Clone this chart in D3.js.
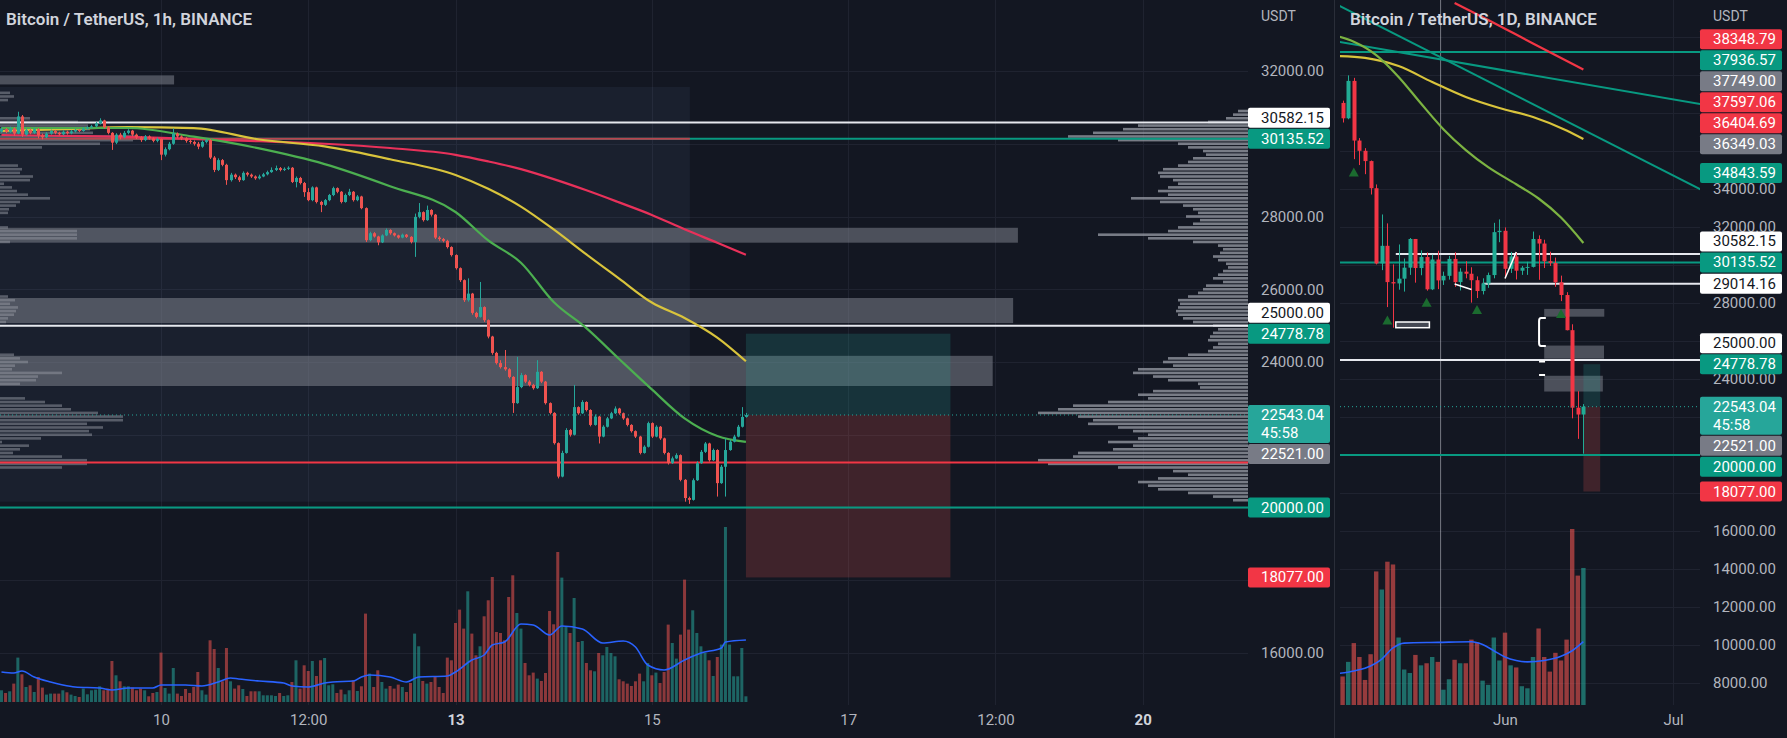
<!DOCTYPE html>
<html><head><meta charset="utf-8">
<script src="https://cdn.jsdelivr.net/npm/d3@7"></script>
<style>html,body{margin:0;padding:0;background:#131722;overflow:hidden}svg{display:block}</style>
</head><body>
<script>
// ======================= DATA : 1h panel =======================
const start1h = "2022-06-08T09:00:00Z";
const firstOpen1h = 30330;
const close1h = [30400,30330,30420,30280,30750,30250,30380,30300,30400,30230,
30180,30280,30350,30300,30260,30330,30290,30340,30380,30350,
30420,30450,30480,30560,30640,30450,30300,30030,30250,30180,
30300,30360,30250,30180,30100,30200,30150,30080,30130,29700,
29850,30000,30280,30200,30150,30080,30050,30000,29920,30050,
30100,29620,29280,29550,29420,29000,29150,29080,29000,29200,
29150,29100,29050,29100,29160,29220,29280,29330,29280,29310,
29340,28950,29060,28920,28670,28450,28800,28400,28320,28450,
28590,28780,28680,28400,28590,28680,28450,28550,28230,27350,
27540,27450,27290,27480,27630,27540,27480,27420,27500,27440,
27300,27990,28120,27900,28180,28050,27420,27380,27330,27160,
26940,26580,26250,25700,25880,25350,25240,25510,25150,24700,
24250,23970,23860,23800,23590,22870,23310,23640,23460,23370,
23280,23730,23460,22870,22600,21770,20850,21500,22130,22000,
22760,22590,22900,22680,22270,22500,21950,22220,22450,22590,
22720,22590,22450,22270,22100,21950,21500,21670,22320,21950,
22220,21900,21500,21220,21350,21440,20760,20260,20210,20750,
21220,21530,21760,21300,21580,20670,21120,21580,21810,21950,
22220,22490,22543.04];
const high1h = [30450,30430,30470,30450,30880,30790,30420,30420,30440,30430,
30280,30320,30390,30380,30330,30370,30360,30380,30410,30400,
30460,30480,30520,30600,30700,30660,30480,30320,30290,30300,
30350,30400,30380,30280,30210,30240,30230,30180,30170,30150,
29900,30050,30420,30310,30230,30180,30120,30090,30050,30090,
30140,30130,29660,29600,29580,29450,29200,29180,29120,29240,
29230,29180,29130,29150,29200,29260,29350,29400,29360,29350,
29380,29360,29100,29090,28950,28780,28830,28820,28430,28480,
28620,28820,28800,28700,28630,28760,28700,28590,28570,28250,
27580,27570,27470,27510,27670,27650,27560,27500,27530,27520,
27460,28080,28370,28140,28300,28200,28070,27460,27410,27360,
27180,26960,26600,26270,26300,25900,25380,26200,25530,25170,
24720,24280,24050,24330,23830,23610,24140,23700,23660,23500,
23400,24050,23750,23480,22890,22620,21790,21560,22180,22160,
23370,22780,22950,22920,22700,22560,22520,22260,22490,22630,
22780,22740,22610,22470,22290,22120,21970,21710,22360,22340,
22260,22240,21920,21520,21400,21490,21460,20780,20300,20800,
21270,21580,21800,21780,21620,21600,21170,21900,21860,22000,
22270,22760,22600];
const low1h = [30300,30290,30300,30220,30260,30190,30220,30260,30270,30150,
30120,30150,30250,30260,30220,30230,30250,30260,30310,30320,
30330,30390,30420,30450,30530,30420,30260,29830,29990,30120,
30150,30260,30200,30130,30050,30070,30110,30040,30040,29550,
29650,29820,29970,30150,30100,30030,30000,29950,29850,29890,
30010,29580,29220,29250,29380,28870,28960,29030,28950,28980,
29100,29060,29010,29020,29080,29130,29200,29250,29240,29250,
29280,28920,28800,28880,28540,28420,28420,28360,28120,28290,
28420,28560,28640,28360,28380,28560,28410,28420,28200,27300,
27320,27420,27210,27270,27460,27500,27450,27390,27400,27410,
27260,26890,27950,27860,27880,28000,27380,27330,27290,27120,
26900,26540,26200,25650,25660,25300,25200,25220,25100,24650,
24200,23930,23820,23760,23550,22600,22850,23280,23420,23330,
23240,23260,23420,22830,22560,21730,20800,20830,21480,21950,
21980,22550,22570,22640,22230,22250,21760,21930,22200,22430,
22570,22550,22410,22230,22060,21910,21460,21480,21650,21910,
21930,21860,21460,21180,21200,21330,20720,20160,20100,20190,
20730,21200,21500,21260,21280,20300,20650,20300,21560,21790,
21930,22200,22470];
// hourly volume, hundreds of BTC
const volume1h = [11.7,9.0,10.7,18.4,44.4,27.7,15.0,16.7,10.0,25.0,
14.4,7.4,8.4,8.4,8.4,11.7,9.7,7.4,6.0,5.0,
13.4,7.7,11.7,12.4,15.7,11.7,13.4,41.0,26.7,20.7,
15.7,15.7,14.4,11.7,13.4,11.7,5.7,9.0,10.0,
49.4,14.0,8.4,34.0,8.4,6.0,13.0,9.0,15.0,30.0,
11.7,7.4,61.7,53.0,34.0,20.7,54.0,20.7,13.4,16.7,
13.0,6.0,10.7,10.7,10.7,6.7,6.7,6.7,6.0,9.0,
6.0,6.7,20.0,41.7,13.4,36.7,31.0,41.0,26.0,41.7,
44.0,16.7,17.7,9.0,12.4,7.7,11.7,21.7,11.0,15.7,
88.4,28.4,15.0,31.7,
20.0,13.4,16.0,13.4,17.4,15.0,10.0,19.0,68.4,55.7,
21.0,18.4,20.0,25.0,15.0,9.0,44.4,41.7,79.0,92.4,
73.4,110.7,68.4,46.7,55.7,85.7,101.7,125.0,70.0,69.0,
61.7,105.0,126.7,89.0,73.4,39.0,26.7,29.4,23.4,21.0,
29.0,91.0,77.7,150.0,124.4,75.0,69.0,104.0,60.0,61.0,
39.0,31.7,30.7,49.0,46.7,55.0,49.0,45.7,22.7,20.7,
18.4,16.0,20.7,28.4,20.7,39.0,26.7,29.4,19.0,30.0,
77.4,59.0,43.4,67.4,122.4,72.4,91.7,69.0,55.7,49.0,
41.7,26.0,45.0,57.4,175.0,57.4,25.7,25.7,54.0,5.7];
// moving averages (sampled at candle index)
const maIndex1h = [0,15,31,47,63,79,95,111,119,127,135,143,151,159,167,175,182];
const maGreen1h = [30433,30433,30433,30194,29872,29441,28833,28124,27343,26730,25650,24932,24083,23247,22450,21966,21804];
const maYellow1h = [30350,30400,30455,30430,30117,29927,29573,29141,28762,28272,27643,26956,26293,25634,25210,24671,24020];
const maRed1h = [30241,30216,30188,30131,30070,30000,29883,29696,29515,29303,29028,28721,28388,28044,27648,27280,26950];
const volMaIndex1h = [0,3,5,8,12,15,18,24,27,31,37,39,45,49,53,56,58,63,69,71,75,79,81,86,88,90,95,99,102,109,111,115,118,120,123,127,130,134,137,142,147,152,155,158,162,167,171,176,177,182];
const volMa1h = [30,29,31,25,20,17,15,14,12,14,14,17,17,16,20,24,23,21,19,16,15,19,20,21,25,27,25,20,25,26,30,42,47,57,60,78,77,67,76,73,59,61,55,37,32,42,49,54,60,62];
// visible-range volume profile (right side), 100 USDT rows from top
const vpTop = 30900, vpStep = 100;
const vpVolume = [10,15,22,40,110,125,155,180,130,70,
60,45,42,55,60,70,85,90,88,75,
70,80,90,80,117,88,65,55,50,62,
48,55,70,80,150,100,55,30,25,28,
35,30,22,20,25,30,35,25,42,45,
50,60,70,68,70,72,70,65,55,35,
30,35,38,40,30,35,40,60,80,85,
75,110,115,95,80,50,48,95,110,100,
140,175,190,210,170,155,160,130,115,100,
110,140,115,135,170,175,210,200,130,75,
60,90,110,100,90,60,35,15];
// session volume profile (left side)
const leftVpPrice = [31400,31300,31200,30700,30600,30500,30400,30300,30200,30100,30000,29900,29400,29300,29200,29100,29000,28900,28800,28700,28600,28500,28400,28300,28200,28100,27700,27600,27500,27400,27300,25800,25700,25600,25500,25400,25300,25200,25100,24200,24100,24000,23900,23800,23700,23600,23500,23400,23000,22900,22800,22700,22600,22500,22400,22300,22200,22100,22000,21900,21800,21700,21600,21500,21400,21300,21200,21100];
const leftVpVolume = [10,14,8,30,78,88,90,93,135,133,100,42,18,22,20,33,30,4,12,17,28,50,20,16,9,8,8,77,77,77,10,8,15,10,18,16,14,8,6,14,20,28,15,12,62,38,36,20,25,45,62,71,98,123,123,87,103,89,92,41,2,29,20,13,62,87,87,62];
// horizontal levels
const levelPrice1h = [30582.15,30135.52,25000,21240,20000];
const levelKind1h = ["white","teal","white","red","teal"];
const redSegPrice1h = 30135.52, redSegEnd1h = "2022-06-15T09:18:00Z";
// zones [low, high, start, end]; the first one is only in the 1h chart
const zoneLow = [31630,27280,25070,23340];
const zoneHigh = [31880,27690,25760,24170];
const zoneStart = ["2022-06-03T00:00:00Z","2022-06-08T00:00:00Z","2022-06-08T00:00:00Z","2022-06-08T00:00:00Z"];
const zoneEnd = ["2022-06-10T03:12:00Z","2022-06-18T17:30:00Z","2022-06-18T16:20:00Z","2022-06-18T11:20:00Z"];
// session box
const sessionBox = {from:"2022-06-03T00:00:00Z", to:"2022-06-15T09:18:00Z", high:31560, low:20160};
// long position tool
const posEntry = 22543.04, posTarget = 24778.78, posStop = 18077.00;
const posFrom = "2022-06-15T23:00:00Z", posTo = "2022-06-18T01:00:00Z";
// price-axis labels
const labelPrice1h = [30582.15,30135.52,25000.00,24778.78,22543.04,22521.00,20000.00,18077.00];
const labelKind1h = ["white","teal","white","teal","last","grey","teal","red"];
const countdown = "45:58";
const priceTicks1h = [32000,30000,28000,26000,24000,22000,20000,18000,16000];
const timeTicks1h = ["2022-06-10T00:00:00Z","2022-06-11T12:00:00Z","2022-06-13T00:00:00Z","2022-06-15T00:00:00Z","2022-06-17T00:00:00Z","2022-06-18T12:00:00Z","2022-06-20T00:00:00Z"];
const timeLabels1h = ["10","12:00","13","15","17","12:00","20"];
const timeBold1h = [false,false,true,false,false,false,true];

// ======================= DATA : 1D panel =======================
const start1d = "2022-05-02T00:00:00Z";
const open1d = [38470,38530,37720,39690,36550,36010,35470,34040,30080,31010,29100,29030,29280,29860,31370,29840,30420,28720,30290,29190,29430,30320,29100,29650,29540,29200,28630,29030,29470,31730,31800,29800,30450,29700,29860,29900,31370,31130,30200,30110,29090,28420,26570,22490,22130];
const high1d = [39170,38650,39980,39850,36680,36150,35500,34240,32660,32190,30030,31080,30340,31420,31370,30770,30660,30540,30750,29650,30480,30670,29830,30200,29880,29400,29300,29600,32220,32400,31980,30690,30680,29950,30170,31760,31560,31330,30700,30390,29440,28570,26880,23360,22680];
const low1d = [38050,37500,37670,35570,35260,34780,33710,30030,29730,27785,26700,28700,28600,29480,29070,29460,28650,28680,28730,28950,29230,28850,28660,29300,28020,28260,28450,28800,29300,31200,29300,29580,29240,29480,29480,29870,29220,29840,29950,28850,28100,26560,21930,20850,20070];
const close1d = [38530,37720,39690,36550,36010,35470,34040,30080,31010,29100,29030,29280,29860,31370,29840,30420,28720,30290,29190,29430,30320,29100,29650,29540,29200,28630,29030,29470,31730,31800,29800,30450,29700,29860,29900,31370,31130,30200,30110,29090,28420,26570,22490,22130,22543.04];
// daily volume, thousands of BTC
const volume1d = [54,41,62,89,69,36,73,192,166,206,202,97,51,46,72,57,60,69,62,22,37,65,60,60,94,90,35,29,97,64,104,57,54,27,24,69,110,69,48,75,64,94,253,186,197];
const volMaDate1d = ["2022-05-02","2022-05-05","2022-05-08","2022-05-10","2022-05-12","2022-05-14","2022-05-20","2022-05-26","2022-05-28","2022-05-30","2022-06-01","2022-06-03","2022-06-05","2022-06-08","2022-06-11","2022-06-13","2022-06-15"];
const volMa1d = [45,49,56,66,82,89,90,91,87,78,69,64,62,64,70,78,91];
const maGreenDate1d = ["2022-05-02","2022-05-05","2022-05-09","2022-05-13","2022-05-17","2022-05-21","2022-05-25","2022-05-29","2022-06-03","2022-06-07","2022-06-11","2022-06-15"];
const maGreen1d = [42050,41750,41050,39900,38500,37150,36050,35150,34250,33500,32500,31160];
const maYellowDate1d = ["2022-05-02","2022-05-07","2022-05-13","2022-05-19","2022-05-25","2022-05-31","2022-06-06","2022-06-12","2022-06-15"];
const maYellow1d = [41000,40900,40470,39630,38840,38260,37790,37080,36630];
const maRedDate1d = ["2022-05-23","2022-05-29","2022-06-06","2022-06-15"];
const maRed1d = [43790,42900,41660,40290];
const trendA = [["2022-05-02",43700],["2022-07-06",33970]];
const trendB = [["2022-05-02",41760],["2022-07-06",38460]];
const levelPrice1d = [41210,30582.15,30135.52,29014.16,25000,20000];
const levelKind1d = ["teal","white","teal","white","white","teal"];
const levelFrom1d = [null,"2022-05-12T12:00:00Z",null,"2022-05-28T00:00:00Z",null,null];
const markerDate1d = ["2022-05-05","2022-05-11","2022-05-18","2022-05-27","2022-06-11"];
const markerPrice1d = [34870,27080,28010,27630,27420];
const crossDate1d = "2022-05-20T12:00:00Z";
const boxNote1d = {from:"2022-05-12T12:00:00Z", to:"2022-05-18T12:00:00Z", high:27000, low:26700};
const bracket1d = {from:"2022-06-07T02:00:00Z", to:"2022-06-08T07:00:00Z", high:27210, low:25740};
const dashPrice1d = [24920,24210];
const scribble1d = [["2022-06-01",29290,"2022-06-03",30680],["2022-05-23",29000,"2022-05-26",28710]];
const labelPrice1d = [38348.79,37936.57,37749.00,37597.06,36404.69,36349.03,34843.59,30582.15,30135.52,29014.16,25000.00,24778.78,22543.04,22521.00,20000.00,18077.00];
const labelKind1d = ["red","teal","grey","red","red","grey","teal","white","teal","white","white","teal","last","grey","teal","red"];
const priceTicks1d = [42000,40000,38000,36000,34000,32000,30000,28000,26000,24000,22000,20000,18000,16000,14000,12000,10000,8000];
const timeTicks1d = ["2022-06-01T00:00:00Z","2022-07-01T00:00:00Z"];
const timeLabels1d = ["Jun","Jul"];

// ======================= STYLE / LAYOUT =======================
const BG="#131722", GRID="#1f2330", TXT="#b2b5be", TXT2="#d1d4dc";
const UP="#26a69a", DN="#ef5350";
const FONT="Roboto, 'Noto Sans', sans-serif";
const kindFill = {white:"#ffffff", teal:"#089981", grey:"#787b86", red:"#f23645", last:"#26a69a"};
const lineColor = {white:"#e6e8ee", teal:"#089981", red:"#f23645"};

const svg = d3.select("body").append("svg").attr("width",1787).attr("height",738)
  .attr("font-family",FONT);
svg.append("rect").attr("width",1787).attr("height",738).attr("fill",BG);
const defs = svg.append("defs");
defs.append("clipPath").attr("id","clipL").append("rect").attr("x",0).attr("y",0).attr("width",1248).attr("height",705);
defs.append("clipPath").attr("id","clipR").append("rect").attr("x",1340).attr("y",0).attr("width",360).attr("height",705);

const H = 3600e3, D = 86400e3;
const t0 = new Date(start1h).getTime();
const hourTime = i => new Date(t0 + i*H);

// ---------------- scales ----------------
const xL = d3.scaleUtc().domain([new Date("2022-06-10T00:00:00Z"), new Date("2022-06-13T00:00:00Z")]).range([161,455.5]);
const yL = d3.scaleLinear().domain([32000,16000]).range([71,653]);
const yVL = d3.scaleLinear().domain([0,175]).range([702,527]);
const vpX = d3.scaleLinear().domain([0,100]).range([0,100]);

const xR = d3.scaleUtc().domain([new Date("2022-06-01T00:00:00Z"), new Date("2022-07-01T00:00:00Z")]).range([1505,1673]);
const yR = d3.scaleLinear().domain([32000,8000]).range([227,683]);
const yVR = d3.scaleLinear().domain([0,253]).range([705,529]);
const d1 = new Date(start1d).getTime();
const dayTime = i => new Date(d1 + i*D);

// ======================= label stacking =======================
function stackLabels(prices, kinds, y){
  const items = prices.map((p,i)=>({p, k:kinds[i], y:y(p), h: kinds[i]==="last"?38:20}));
  const anchor = items.find(d=>d.k==="last");
  anchor.top = anchor.y - 10;
  let lim = anchor.top;
  items.filter(d=>d!==anchor && d.y<=anchor.y).sort((a,b)=>b.y-a.y).forEach(d=>{
    const c = Math.min(d.y, lim-1-10); d.top = c-10; lim = d.top; });
  lim = anchor.top + anchor.h;
  items.filter(d=>d!==anchor && d.y>anchor.y).sort((a,b)=>a.y-b.y).forEach(d=>{
    const c = Math.max(d.y, lim+1+10); d.top = c-10; lim = d.top+20; });
  return items;
}
function drawLabels(items, x0){
  const g = svg.append("g");
  items.forEach(d=>{
    g.append("rect").attr("x",x0).attr("y",d.top).attr("width",82).attr("height",d.h).attr("rx",2).attr("fill",kindFill[d.k]);
    const tc = d.k==="white" ? "#131722" : "#ffffff";
    g.append("text").attr("x",x0+13).attr("y",d.top+10).attr("dominant-baseline","central").attr("font-size",15)
      .attr("fill",tc).text(d.p.toFixed(2));
    if(d.k==="last") g.append("text").attr("x",x0+13).attr("y",d.top+28).attr("dominant-baseline","central").attr("font-size",15)
      .attr("fill",tc).text(countdown);
  });
}
// ticks hidden where a label box covers them (as the chart does)
const visibleTicks = (ticks, items, y) => ticks.filter(t => !items.some(d => y(t) >= d.top-1 && y(t) <= d.top+d.h+1));
const itemsL = stackLabels(labelPrice1h,labelKind1h,yL);
const itemsR = stackLabels(labelPrice1d,labelKind1d,yR);

// ======================= LEFT (1h) PANEL =======================
const gL = svg.append("g").attr("clip-path","url(#clipL)");
gL.selectAll(".hg").data(priceTicks1h).join("line")
  .attr("x1",0).attr("x2",1248).attr("y1",d=>Math.round(yL(d))+0.5).attr("y2",d=>Math.round(yL(d))+0.5)
  .attr("stroke",GRID).attr("stroke-width",1);
gL.selectAll(".vg").data(timeTicks1h).join("line")
  .attr("x1",d=>Math.round(xL(new Date(d)))+0.5).attr("x2",d=>Math.round(xL(new Date(d)))+0.5)
  .attr("y1",0).attr("y2",705).attr("stroke",GRID).attr("stroke-width",1);
gL.append("rect").attr("x",xL(new Date(sessionBox.from))).attr("y",yL(sessionBox.high))
  .attr("width",xL(new Date(sessionBox.to))-xL(new Date(sessionBox.from)))
  .attr("height",yL(sessionBox.low)-yL(sessionBox.high)).attr("fill","rgba(120,144,200,0.075)");
zoneLow.forEach((lo,i)=>{
  const x0 = xL(new Date(zoneStart[i])), x1 = xL(new Date(zoneEnd[i]));
  gL.append("rect").attr("x",x0).attr("y",yL(zoneHigh[i])).attr("width",x1-x0)
    .attr("height",yL(lo)-yL(zoneHigh[i])).attr("fill","rgba(134,137,147,0.5)");
});
gL.selectAll(".lvp").data(leftVpPrice).join("rect")
  .attr("x",0).attr("y",d=>yL(d)-1.3).attr("height",2.6)
  .attr("width",(d,i)=>vpX(leftVpVolume[i])).attr("fill","rgba(150,153,163,0.5)");
vpVolume.forEach((v,i)=>{
  const p = vpTop - i*vpStep;
  gL.append("rect").attr("x",1248-vpX(v)).attr("y",yL(p)-1.3).attr("height",2.6)
    .attr("width",vpX(v)).attr("fill","rgba(160,163,173,0.72)");
});
{
  const x0 = xL(new Date(posFrom)), x1 = xL(new Date(posTo));
  gL.append("rect").attr("x",x0).attr("y",yL(posTarget)).attr("width",x1-x0).attr("height",yL(posEntry)-yL(posTarget)).attr("fill","rgba(38,166,154,0.2)");
  gL.append("rect").attr("x",x0).attr("y",yL(posEntry)).attr("width",x1-x0).attr("height",yL(posStop)-yL(posEntry)).attr("fill","rgba(239,83,80,0.2)");
}
levelPrice1h.forEach((p,i)=>{
  gL.append("line").attr("x1",0).attr("x2",1248).attr("y1",yL(p)).attr("y2",yL(p))
    .attr("stroke",lineColor[levelKind1h[i]]).attr("stroke-width",2);
});
gL.append("line").attr("x1",0).attr("x2",xL(new Date(redSegEnd1h))).attr("y1",yL(redSegPrice1h)).attr("y2",yL(redSegPrice1h))
  .attr("stroke","#b8454f").attr("stroke-width",2);
const open1h = close1h.map((c,i)=> i===0 ? firstOpen1h : close1h[i-1]);
gL.selectAll(".vol").data(volume1h).join("rect")
  .attr("x",(d,i)=>xL(hourTime(i))-1.5).attr("width",3)
  .attr("y",d=>yVL(d)).attr("height",d=>yVL(0)-yVL(d))
  .attr("fill",(d,i)=> close1h[i]>=open1h[i] ? "rgba(38,166,154,0.55)" : "rgba(239,83,80,0.55)");
gL.append("path").datum(volMa1h).attr("fill","none").attr("stroke","#2962ff").attr("stroke-width",1.6)
  .attr("d", d3.line().x((d,i)=>xL(hourTime(volMaIndex1h[i]))).y(d=>yVL(d)).curve(d3.curveMonotoneX));
[[maRed1h,"#e8315a"],[maYellow1h,"#d9c43c"],[maGreen1h,"#4caf50"]].forEach(([arr,col])=>{
  gL.append("path").datum(arr).attr("fill","none").attr("stroke",col).attr("stroke-width",2.2)
    .attr("d", d3.line().x((d,i)=>xL(hourTime(maIndex1h[i]))).y(d=>yL(d)).curve(d3.curveMonotoneX));
});
const cg = gL.append("g");
close1h.forEach((c,i)=>{
  const o = open1h[i], x = Math.round(xL(hourTime(i))), col = c>=o?UP:DN;
  cg.append("line").attr("x1",x+0.5).attr("x2",x+0.5).attr("y1",yL(high1h[i])).attr("y2",yL(low1h[i])).attr("stroke",col).attr("stroke-width",1);
  const yt = yL(Math.max(o,c)), yb = yL(Math.min(o,c));
  cg.append("rect").attr("x",x-1).attr("width",3).attr("y",yt).attr("height",Math.max(1,yb-yt)).attr("fill",col);
});
gL.append("line").attr("x1",0).attr("x2",1248).attr("y1",yL(posEntry)).attr("y2",yL(posEntry))
  .attr("stroke","#26a69a").attr("stroke-width",1).attr("stroke-dasharray","1,3");
svg.append("text").attr("x",6).attr("y",21).attr("dominant-baseline","middle").attr("font-size",17).attr("font-weight",600)
  .attr("fill",TXT2).text("Bitcoin / TetherUS, 1h, BINANCE");

const axL = svg.append("g").attr("transform","translate(1248,0)")
  .call(d3.axisRight(yL).tickValues(visibleTicks(priceTicks1h,itemsL,yL)).tickFormat(d=>d.toFixed(2)).tickSize(0).tickPadding(13));
axL.select(".domain").remove();
axL.selectAll("text").attr("font-size",15).attr("font-family",FONT).attr("fill",TXT);
const axLT = svg.append("g").attr("transform","translate(0,705)")
  .call(d3.axisBottom(xL).tickValues(timeTicks1h.map(d=>new Date(d))).tickFormat((d,i)=>timeLabels1h[i]).tickSize(0).tickPadding(9));
axLT.select(".domain").remove();
axLT.selectAll("text").attr("font-size",15).attr("font-family",FONT)
  .attr("fill",(d,i)=>timeBold1h[i]?TXT2:TXT).attr("font-weight",(d,i)=>timeBold1h[i]?700:400);
svg.append("text").attr("x",1261).attr("y",17).attr("dominant-baseline","middle").attr("font-size",14).attr("fill",TXT).text("USDT");
drawLabels(itemsL,1248);

// ======================= RIGHT (1D) PANEL =======================
svg.append("line").attr("x1",1334.5).attr("x2",1334.5).attr("y1",0).attr("y2",738).attr("stroke","#2a2e39");
const gR = svg.append("g").attr("clip-path","url(#clipR)");
gR.selectAll(".hg").data(priceTicks1d).join("line")
  .attr("x1",1340).attr("x2",1700).attr("y1",d=>Math.round(yR(d))+0.5).attr("y2",d=>Math.round(yR(d))+0.5)
  .attr("stroke",GRID);
gR.selectAll(".vg").data(timeTicks1d).join("line")
  .attr("x1",d=>Math.round(xR(new Date(d)))+0.5).attr("x2",d=>Math.round(xR(new Date(d)))+0.5)
  .attr("y1",0).attr("y2",705).attr("stroke",GRID);
gR.append("line").attr("x1",xR(new Date(crossDate1d))).attr("x2",xR(new Date(crossDate1d))).attr("y1",0).attr("y2",705)
  .attr("stroke","rgba(200,202,210,0.55)").attr("stroke-width",1);
zoneLow.forEach((lo,i)=>{
  if(i===0) return;
  const x0 = xR(new Date(zoneStart[i])), x1 = xR(new Date(zoneEnd[i]));
  gR.append("rect").attr("x",x0).attr("y",yR(zoneHigh[i])).attr("width",x1-x0)
    .attr("height",yR(lo)-yR(zoneHigh[i])).attr("fill","rgba(134,137,147,0.5)");
});
{
  const x0 = xR(d3.utcDay.floor(new Date(posFrom))), x1 = xR(d3.utcDay.floor(new Date(posTo)));
  gR.append("rect").attr("x",x0).attr("y",yR(posTarget)).attr("width",x1-x0).attr("height",yR(posEntry)-yR(posTarget)).attr("fill","rgba(38,166,154,0.2)");
  gR.append("rect").attr("x",x0).attr("y",yR(posEntry)).attr("width",x1-x0).attr("height",yR(posStop)-yR(posEntry)).attr("fill","rgba(239,83,80,0.2)");
}
levelPrice1d.forEach((p,i)=>{
  const x0 = levelFrom1d[i] ? xR(new Date(levelFrom1d[i])) : 1340;
  gR.append("line").attr("x1",x0).attr("x2",1700).attr("y1",yR(p)).attr("y2",yR(p))
    .attr("stroke",lineColor[levelKind1d[i]]).attr("stroke-width",2);
});
[trendA,trendB].forEach(t=>{
  gR.append("line").attr("x1",xR(new Date(t[0][0]))).attr("y1",yR(t[0][1])).attr("x2",xR(new Date(t[1][0]))).attr("y2",yR(t[1][1]))
    .attr("stroke","#089981").attr("stroke-width",2);
});
[[maRedDate1d,maRed1d,"#f23645"],[maYellowDate1d,maYellow1d,"#d9c43c"],[maGreenDate1d,maGreen1d,"#7cb342"]].forEach(([ds,vs,col])=>{
  gR.append("path").datum(vs).attr("fill","none").attr("stroke",col).attr("stroke-width",2.2)
    .attr("d", d3.line().x((d,i)=>xR(new Date(ds[i]))).y(d=>yR(d)).curve(d3.curveMonotoneX));
});
gR.selectAll(".vol").data(volume1d).join("rect")
  .attr("x",(d,i)=>xR(dayTime(i))-2.2).attr("width",4.4)
  .attr("y",d=>yVR(d)).attr("height",d=>yVR(0)-yVR(d))
  .attr("fill",(d,i)=> close1d[i]>=open1d[i] ? "rgba(38,166,154,0.6)" : "rgba(239,83,80,0.6)");
gR.append("path").datum(volMa1d).attr("fill","none").attr("stroke","#2962ff").attr("stroke-width",1.6)
  .attr("d", d3.line().x((d,i)=>xR(new Date(volMaDate1d[i]))).y(d=>yVR(d)).curve(d3.curveMonotoneX));
close1d.forEach((c,i)=>{
  const o = open1d[i], x = Math.round(xR(dayTime(i))), col = c>=o?"#22ab94":"#f23645";
  gR.append("line").attr("x1",x+0.5).attr("x2",x+0.5).attr("y1",yR(high1d[i])).attr("y2",yR(low1d[i])).attr("stroke",col);
  const yt = yR(Math.max(o,c)), yb = yR(Math.min(o,c));
  gR.append("rect").attr("x",x-1.5).attr("width",4).attr("y",yt).attr("height",Math.max(1,yb-yt)).attr("fill",col);
});
markerDate1d.forEach((d,i)=>{
  const x = xR(new Date(d)), y = yR(markerPrice1d[i]);
  gR.append("path").attr("d",`M${x},${y-5}L${x+5},${y+4}L${x-5},${y+4}Z`).attr("fill","#1b6b2f");
});
gR.append("rect").attr("x",xR(new Date(boxNote1d.from))).attr("y",yR(boxNote1d.high))
  .attr("width",xR(new Date(boxNote1d.to))-xR(new Date(boxNote1d.from))).attr("height",yR(boxNote1d.low)-yR(boxNote1d.high))
  .attr("fill","rgba(120,123,134,0.5)").attr("stroke","#ffffff").attr("stroke-width",1.5);
{
  const bx0 = xR(new Date(bracket1d.from)), bx1 = xR(new Date(bracket1d.to));
  const by0 = yR(bracket1d.high), by1 = yR(bracket1d.low);
  gR.append("path").attr("d",`M${bx1},${by0}L${bx0+2},${by0}Q${bx0},${by0} ${bx0},${by0+3}L${bx0},${by1-3}Q${bx0},${by1} ${bx0+2},${by1}L${bx1},${by1}`)
    .attr("fill","none").attr("stroke","#ffffff").attr("stroke-width",2);
  dashPrice1d.forEach(p=>gR.append("line").attr("x1",bx0).attr("x2",bx0+6).attr("y1",yR(p)).attr("y2",yR(p)).attr("stroke","#ffffff").attr("stroke-width",2));
}
scribble1d.forEach(s=>{
  gR.append("line").attr("x1",xR(new Date(s[0]))).attr("y1",yR(s[1])).attr("x2",xR(new Date(s[2]))).attr("y2",yR(s[3]))
    .attr("stroke","#ffffff").attr("stroke-width",1.5);
});
gR.append("line").attr("x1",1340).attr("x2",1700).attr("y1",yR(posEntry)).attr("y2",yR(posEntry))
  .attr("stroke","#26a69a").attr("stroke-width",1).attr("stroke-dasharray","1,3");
svg.append("text").attr("x",1350).attr("y",21).attr("dominant-baseline","middle").attr("font-size",17).attr("font-weight",600)
  .attr("fill",TXT2).text("Bitcoin / TetherUS, 1D, BINANCE");

const axR = svg.append("g").attr("transform","translate(1700,0)")
  .call(d3.axisRight(yR).tickValues(visibleTicks(priceTicks1d.filter(d=>d<=34000),itemsR,yR)).tickFormat(d=>d.toFixed(2)).tickSize(0).tickPadding(13));
axR.select(".domain").remove();
axR.selectAll("text").attr("font-size",15).attr("font-family",FONT).attr("fill",TXT);
const axRT = svg.append("g").attr("transform","translate(0,705)")
  .call(d3.axisBottom(xR).tickValues(timeTicks1d.map(d=>new Date(d))).tickFormat((d,i)=>timeLabels1d[i]).tickSize(0).tickPadding(9));
axRT.select(".domain").remove();
axRT.selectAll("text").attr("font-size",15).attr("font-family",FONT).attr("fill",TXT);
drawLabels(itemsR,1700);
svg.append("rect").attr("x",1700).attr("y",0).attr("width",87).attr("height",29).attr("fill",BG);
svg.append("text").attr("x",1713).attr("y",17).attr("dominant-baseline","middle").attr("font-size",14).attr("fill",TXT).text("USDT");
</script>
</body></html>
